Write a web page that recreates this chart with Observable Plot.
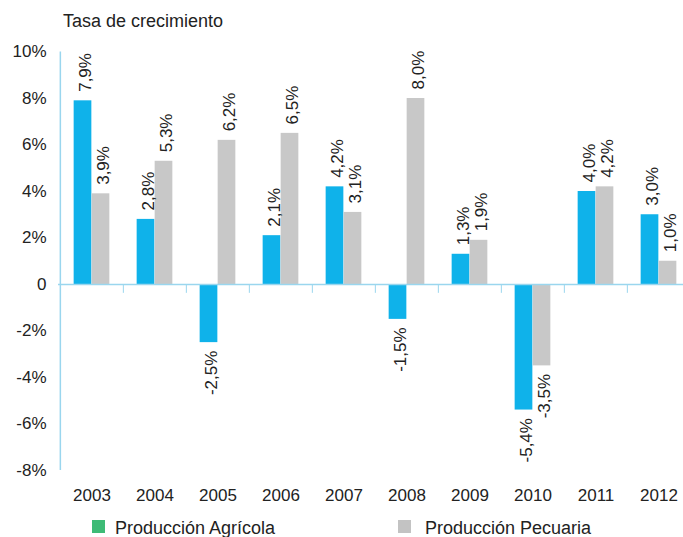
<!DOCTYPE html>
<html>
<head>
<meta charset="utf-8">
<script src="https://cdn.jsdelivr.net/npm/d3@7"></script>
<script src="https://cdn.jsdelivr.net/npm/@observablehq/plot@0.6"></script>
<style>
  html, body { margin: 0; padding: 0; background: #fff; }
  body { width: 683px; height: 537px; position: relative; overflow: hidden; font-family: "Liberation Sans", Arial, sans-serif; color: #222; }
  #title { position: absolute; left: 63px; top: 12px; font-size: 18px; line-height: 18px; white-space: nowrap; }
  #chart { position: absolute; left: 0; top: 30px; }
  .leg { position: absolute; top: 519px; font-size: 18px; line-height: 18px; white-space: nowrap; }
  .sw { position: absolute; top: 520px; width: 13px; height: 13px; }
</style>
</head>
<body>
<div id="title">Tasa de crecimiento</div>
<div id="chart"></div>
<div class="sw" style="left:92px;background:#3dbb76"></div>
<div class="leg" style="left:115px">Producción Agrícola</div>
<div class="sw" style="left:398px;background:#c3c3c3"></div>
<div class="leg" style="left:425px">Producción Pecuaria</div>
<script>
const years = ["2003","2004","2005","2006","2007","2008","2009","2010","2011","2012"];
const agricola = [7.9, 2.8, -2.5, 2.1, 4.2, -1.5, 1.3, -5.4, 4.0, 3.0];
const pecuaria = [3.9, 5.3, 6.2, 6.5, 3.1, 8.0, 1.9, -3.5, 4.2, 1.0];
const yTicks = [-8, -6, -4, -2, 0, 2, 4, 6, 8, 10];

const rows = [];
years.forEach((y, i) => {
  rows.push({year: y, serie: "Agrícola", value: agricola[i]});
  rows.push({year: y, serie: "Pecuaria", value: pecuaria[i]});
});
const A = rows.filter(d => d.serie === "Agrícola");
const P = rows.filter(d => d.serie === "Pecuaria");

const x0 = 58, step = 63.3;
const half = step / 2, bw = 18;
const fmt = v => String(v.toFixed(1)).replace(".", ",") + "%";
const blue = "#0fb2ea", gray = "#c8c8c8", axisBlue = "#9ad6ee";

function labels(data, dx) {
  return [
    Plot.text(data.filter(d => d.value >= 0), {x: "year", y: "value", text: d => fmt(d.value), rotate: -90, textAnchor: "start", dy: -9, dx, fill: "#222"}),
    Plot.text(data.filter(d => d.value < 0), {x: "year", y: "value", text: d => fmt(d.value), rotate: -90, textAnchor: "end", dy: 8, dx, fill: "#222"})
  ];
}

const chart = Plot.plot({
  width: 683,
  height: 480,
  marginTop: 21.5,
  marginBottom: 40,
  marginLeft: 58,
  marginRight: 0,
  style: {fontSize: "17px", fontFamily: "'Liberation Sans', Arial, sans-serif", color: "#222", background: "transparent"},
  x: {type: "band", domain: years, range: [x0, x0 + step * years.length], padding: 0, tickSize: 0, tickPadding: 18, label: null},
  y: {domain: [-8, 10], ticks: yTicks, tickFormat: d => d === 0 ? "0" : d + "%", tickSize: 0, tickPadding: 12, label: null},
  marks: [
    Plot.ruleX(["2003"], {x: d => d, y1: -8, y2: 10, dx: -half, stroke: axisBlue, strokeWidth: 1.5}),
    Plot.barY(A, {x: "year", y: "value", fill: blue, insetLeft: half - bw, insetRight: half}),
    Plot.barY(P, {x: "year", y: "value", fill: gray, insetLeft: half, insetRight: half - bw}),
    Plot.ruleY([0], {stroke: axisBlue, strokeWidth: 1.5}),
    Plot.ruleX(years.slice(1), {x: d => d, y1: 0, y2: -0.38, dx: -half, stroke: axisBlue, strokeWidth: 1}),
    ...labels(A, -6.5),
    ...labels(P, 11.5)
  ]
});
document.getElementById("chart").appendChild(chart);
</script>
</body>
</html>
